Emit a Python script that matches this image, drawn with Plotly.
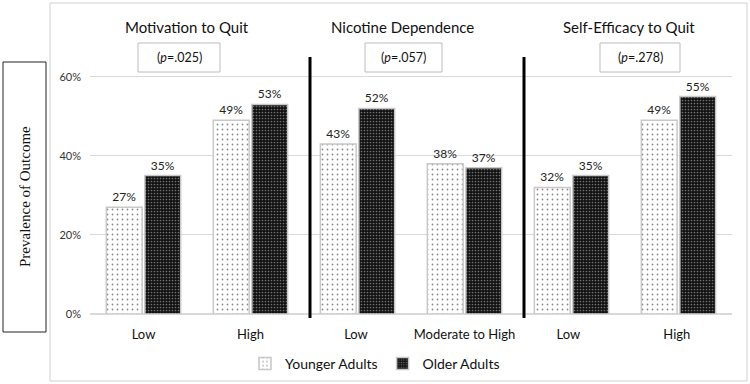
import plotly.graph_objects as go

W, H = 750, 384

categories = ["Low", "High", "Low ", "Moderate to High", "Low  ", "High "]
younger = [27, 49, 43, 38, 32, 49]
older = [35, 53, 52, 37, 35, 55]
series_names = ["Younger Adults", "Older Adults"]
panel_titles = ["Motivation to Quit", "Nicotine Dependence", "Self-Efficacy to Quit"]
p_values = [".025", ".057", ".278"]
y_ticks = [0, 20, 40, 60]
y_tick_labels = ["0%", "20%", "40%", "60%"]
y_title = "Prevalence of Outcome"

FONT = "Lato, 'Open Sans', sans-serif"

def px(x):
    return x / W

def py(y):
    return 1 - y / H

fig = go.Figure()
fig.add_trace(go.Bar(
    x=categories, y=younger, name=series_names[0],
    marker=dict(color="white", line=dict(color="#c8c8c8", width=1.5),
                pattern=dict(shape=".", fgcolor="#111", bgcolor="white", size=5, solidity=0.1)),
    texttemplate="%{y:.0f}%", textposition="outside", cliponaxis=False,
    textfont=dict(size=12, color="#222", family=FONT),
))
fig.add_trace(go.Bar(
    x=categories, y=older, name=series_names[1],
    marker=dict(color="#111", line=dict(color="#c8c8c8", width=1.5),
                pattern=dict(shape=".", fgcolor="#cfcfcf", bgcolor="#111", size=3, solidity=0.25)),
    texttemplate="%{y:.0f}%", textposition="outside", cliponaxis=False,
    textfont=dict(size=12, color="#222", family=FONT),
))

shapes = []
shapes.append(dict(type="rect", xref="paper", yref="paper",
                   x0=px(50), x1=px(747), y0=py(381), y1=py(3),
                   line=dict(color="#d0d0d0", width=1), fillcolor="rgba(0,0,0,0)", layer="below"))
shapes.append(dict(type="rect", xref="paper", yref="paper",
                   x0=px(3), x1=px(46), y0=py(332), y1=py(62),
                   line=dict(color="#222", width=1)))
for sx in [310, 524]:
    shapes.append(dict(type="line", xref="paper", yref="paper",
                       x0=px(sx), x1=px(sx), y0=py(318), y1=py(57),
                       line=dict(color="black", width=3)))
boxes = [(138, 220), (365, 442), (600, 680)]
for (bx0, bx1) in boxes:
    shapes.append(dict(type="rect", xref="paper", yref="paper",
                       x0=px(bx0), x1=px(bx1), y0=py(72), y1=py(43),
                       line=dict(color="#bdbdbd", width=1)))

annotations = []
title_x = [187, 402, 629]
for t, tx in zip(panel_titles, title_x):
    annotations.append(dict(text=t, xref="paper", yref="paper", x=px(tx), y=py(27),
                            showarrow=False, xanchor="center", yanchor="middle",
                            font=dict(size=15, color="#111", family=FONT)))
for pv, (bx0, bx1) in zip(p_values, boxes):
    annotations.append(dict(text="(<i>p</i>=" + pv + ")", xref="paper", yref="paper",
                            x=px((bx0 + bx1) / 2), y=py(57.5), showarrow=False,
                            xanchor="center", yanchor="middle",
                            font=dict(size=12.5, color="#111", family=FONT)))
annotations.append(dict(text=y_title, xref="paper", yref="paper", x=px(25), y=py(197),
                        showarrow=False, textangle=-90, xanchor="center", yanchor="middle",
                        font=dict(size=15, color="#111", family="'Liberation Serif', serif")))

fig.update_layout(
    width=W, height=H,
    margin=dict(l=0, r=0, t=0, b=0, autoexpand=False),
    paper_bgcolor="white", plot_bgcolor="white",
    barmode="group", bargap=0.28, bargroupgap=0.07,
    font=dict(family=FONT, color="#222"),
    shapes=shapes, annotations=annotations,
    showlegend=True,
    legend=dict(orientation="h", x=0.5, xanchor="center", y=py(364), yanchor="middle",
                font=dict(size=14, color="#111", family=FONT), itemwidth=30,
                traceorder="normal"),
    xaxis=dict(domain=[px(90), px(732)], showgrid=False, showline=False, zeroline=False,
               automargin=False,
               tickfont=dict(size=13, color="#111", family=FONT), ticklabelstandoff=11,
               fixedrange=True),
    yaxis=dict(domain=[py(314), py(57)], range=[0, 65], tickmode="array",
               tickvals=y_ticks, ticktext=y_tick_labels, automargin=False,
               showgrid=True, gridcolor="#d9d9d9", gridwidth=1, zeroline=True,
               zerolinecolor="#d9d9d9", zerolinewidth=1.5,
               tickfont=dict(size=11, color="#333", family=FONT), ticklabelstandoff=8,
               fixedrange=True),
)

post = ("document.documentElement.style.margin='0';"
        "document.body.style.margin='0';")
fig.write_html("out.html", config={"displayModeBar": False}, post_script=post)
